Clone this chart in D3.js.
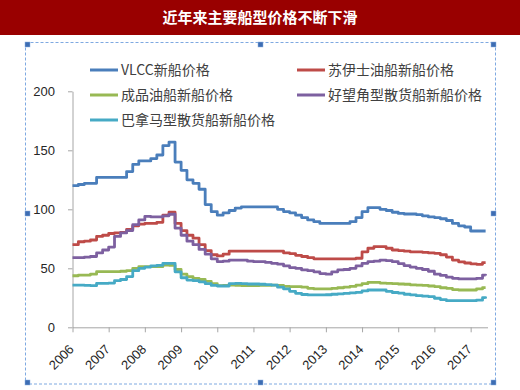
<!DOCTYPE html>
<html><head><meta charset="utf-8">
<script src="https://cdn.jsdelivr.net/npm/d3@7"></script>
<style>html,body{margin:0;padding:0;background:#fff;}svg{display:block;}</style>
</head><body>
<svg id="chart" width="520" height="390"></svg>
<script>
const title = "近年来主要船型价格不断下滑";
const months = [
"2006-01","2006-03","2006-05","2006-07","2006-09","2006-11",
"2007-01","2007-03","2007-05","2007-07","2007-09","2007-11",
"2008-01","2008-03","2008-05","2008-07","2008-09","2008-11",
"2009-01","2009-03","2009-05","2009-07","2009-09","2009-11",
"2010-01","2010-03","2010-05","2010-07","2010-09","2010-11",
"2011-01","2011-03","2011-05","2011-07","2011-09","2011-11",
"2012-01","2012-03","2012-05","2012-07","2012-09","2012-11",
"2013-01","2013-03","2013-05","2013-07","2013-09","2013-11",
"2014-01","2014-03","2014-05","2014-07","2014-09","2014-11",
"2015-01","2015-03","2015-05","2015-07","2015-09","2015-11",
"2016-01","2016-03","2016-05","2016-07","2016-09","2016-11",
"2017-01","2017-03","2017-05","2017-06"];
const vlcc = [120,121,122,122,127,127, 127,127,127,132,138,141, 141,143,146,154,157,140,
  133,125,122,117,104,98, 95,97,99,101,102,102, 102,102,102,102,100,98,
  97,95,93,91,89.5,88, 88,88,88,88,89.5,93, 98,101.5,101.5,100,99,97.5,
  96.5,96,96,95.5,94.5,93.5, 93,92,90.5,88,86,85, 81.6,81.6,81.6,81.6];
const suezmax = [70,72.5,73,74,77,78, 79.5,80,80.5,83,86,87.5, 88,88,89,95,97.5,88,
  82,78,75.5,70,65,61.5, 60.5,62,64.5,64.5,64.5,64.5, 64.5,64.5,64.5,64.5,64.5,63,
  62.5,61,60,59,58,58, 58,58,58,58,58,58.5, 64,67,68.3,68.3,67,65.5,
  65,64.5,64,64,63.5,63, 62.7,61.5,59.5,57,55.5,54.5, 53.8,53.4,54.8,54.8];
const product = [43.7,44.3,44.3,45,47.1,47.1, 47.1,47.1,47.5,48,50,51.4, 51.4,51.4,51.4,52.8,52.5,49,
  45,43,41.5,40.5,39,37, 35.3,35.5,35.8,35.5,35.3,35.3, 35.3,35.5,35.5,35.8,35.5,34.6,
  34.4,34.4,34,33,32.5,32.5, 32.5,33,33.5,34,34.6,35.8, 37,38,38,37.5,37.3,37,
  36.7,36.5,36,35.8,35.5,35, 34.5,33.5,33,32,31.6,31.6, 31.6,32.5,33.6,33.6];
const capesize = [59,59,59.5,60,63,65.5, 68,77,80,82,87,91, 94,93.5,93.5,94.5,95.8,84,
  78,73,70,66,62,58, 55.6,56,57,57,57,56, 55.6,55.6,55,54.2,53.5,52,
  50.5,50,48.6,48,47,45.5, 45,47,48.6,49,50,52, 54.2,55.6,56,57,56.5,55.6,
  54,52.2,51,50,49,47.5, 45,44,42.5,41.5,41,41, 41,41.5,44.3,44];
const panamax = [35.8,35.8,35.5,35.3,37.3,37.3, 37.5,39.5,40.5,43,48,50, 51,52,52.5,54.2,54.2,47,
  42,40,39.5,38.5,37,35.5, 35,35,37,37.3,37,36.7, 36.7,36.5,36.2,35.8,34,32.5,
  30.5,28.8,27.8,27.4,27.4,27.4, 27.6,28,28.4,28.8,29.2,29.6, 30.8,31.6,31.6,31.6,30.5,29.5,
  29,28,27.5,26.8,26.4,26, 24.6,23.5,22.6,22.6,22.6,22.6, 22.6,23,25.1,24.5];
const seriesNames = ["VLCC新船价格","苏伊士油船新船价格","成品油船新船价格","好望角型散货船新船价格","巴拿马型散货船新船价格"];
const seriesValues = [vlcc, suezmax, product, capesize, panamax];
const seriesColors = ["#4a7ebb","#be4b48","#98b954","#7d60a0","#46aac5"];
const yTicks = [0,50,100,150,200];
const xTickYears = [2006,2007,2008,2009,2010,2011,2012,2013,2014,2015,2016,2017];

const svg = d3.select("#chart");
const parse = d3.timeParse("%Y-%m");
const dates = months.map(parse);

// title bar
svg.append("rect").attr("x",0).attr("y",0).attr("width",520).attr("height",35).attr("fill","#990000");
svg.append("text").attr("x",260).attr("y",18).attr("dy","0.36em").attr("text-anchor","middle")
  .attr("fill","#fff").attr("font-family","'Noto Sans CJK SC',sans-serif").attr("font-weight","bold")
  .attr("font-size",15).text(title);

// selection frame
svg.append("rect").attr("x",25.5).attr("y",42.5).attr("width",470).attr("height",341.5)
  .attr("fill","none").attr("stroke","#7ea9e1").attr("stroke-width",1).attr("stroke-dasharray","3,2");
const handles = [[25,42],[258,42],[491,42],[25,211],[491,211],[25,380],[258,380],[491,380]];
svg.selectAll("rect.h").data(handles).enter().append("rect").attr("class","h")
  .attr("x",d=>d[0]).attr("y",d=>d[1]).attr("width",5).attr("height",5)
  .attr("fill","#3d6db3").attr("stroke","#8fb2e3").attr("stroke-width",0.5);

const x = d3.scaleTime().domain([new Date(2006,0,1), new Date(2017,5,20)]).range([72.5,487.5]);
const y = d3.scaleLinear().domain([0,200]).range([327.3,91.3]);

// y axis
const yAxis = svg.append("g").attr("transform","translate(72.5,0)")
  .call(d3.axisLeft(y).tickValues(yTicks).tickSize(4.5).tickPadding(13).tickSizeOuter(0));
yAxis.select(".domain").attr("stroke","#a6a6a6");
yAxis.selectAll(".tick line").attr("stroke","#a6a6a6");
yAxis.selectAll("text").attr("font-family","'Liberation Sans',Arial,sans-serif").attr("font-size",13).attr("fill","#262626");

// x axis
const xAxis = svg.append("g").attr("transform","translate(0,327.3)")
  .call(d3.axisBottom(x).tickValues(xTickYears.map(v=>new Date(v,0,1))).tickSize(5).tickSizeOuter(0).tickFormat(d3.timeFormat("%Y")));
xAxis.select(".domain").attr("stroke","#a6a6a6");
xAxis.selectAll(".tick line").attr("stroke","#a6a6a6");
xAxis.selectAll("text").attr("font-family","'Liberation Sans',Arial,sans-serif").attr("font-size",13).attr("fill","#262626")
  .attr("text-anchor","end").attr("dy","0.35em").attr("y",0)
  .attr("transform","translate(-1.5,19.5) rotate(-45)");

// lines
const line = d3.line().x((d,i)=>x(dates[i])).y(d=>y(d)).curve(d3.curveStepAfter);
svg.append("g").selectAll("path").data(seriesValues).enter().append("path")
  .attr("d",line).attr("fill","none").attr("stroke",(d,i)=>seriesColors[i])
  .attr("stroke-width",2.8).attr("stroke-linejoin","round");

// legend
const legendPos = [[90,70],[297,70],[90,95],[297,95],[90,120]];
const lg = svg.append("g").selectAll("g").data(seriesNames).enter().append("g")
  .attr("transform",(d,i)=>`translate(${legendPos[i][0]},${legendPos[i][1]})`);
lg.append("line").attr("x1",0).attr("x2",28).attr("y1",0).attr("y2",0)
  .attr("stroke",(d,i)=>seriesColors[i]).attr("stroke-width",3);
lg.append("text").attr("x",31).attr("y",0).attr("dy","0.36em").attr("font-size",14)
  .attr("font-family","'Noto Sans CJK SC',sans-serif").attr("fill","#404040").text(d=>d);
</script>
</body></html>
